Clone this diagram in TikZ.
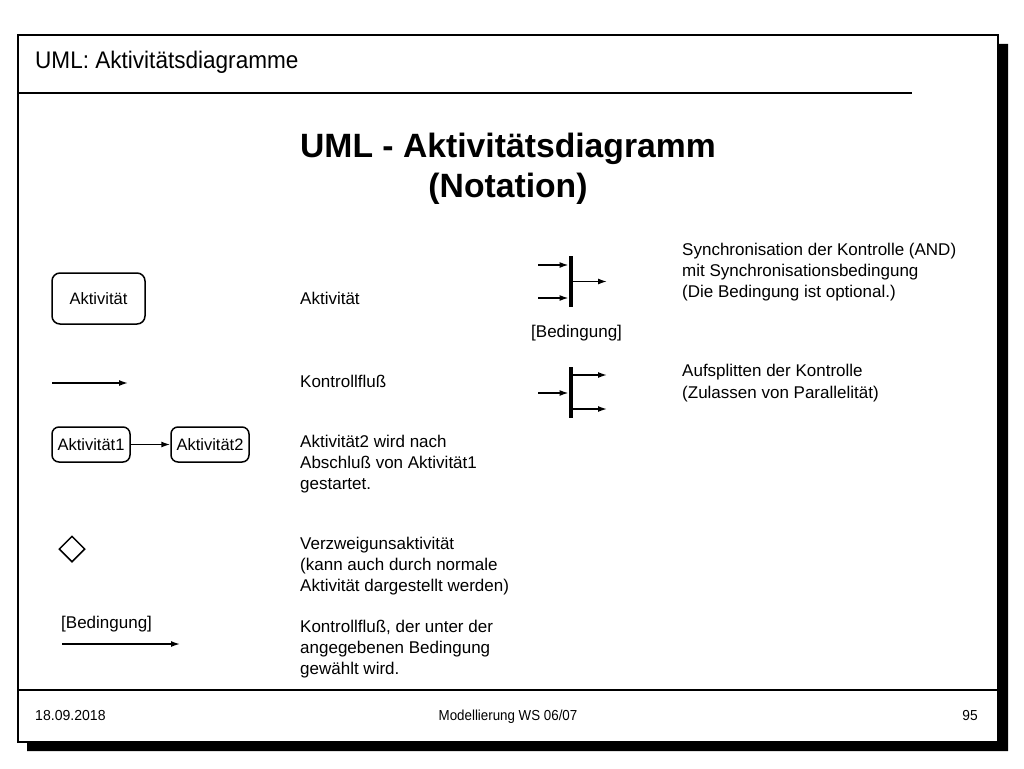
\documentclass[tikz,border=0pt]{standalone}
\usepackage{fontspec}
\setmainfont{Liberation Sans}
\usetikzlibrary{shapes.geometric,arrows.meta}
\tikzset{
  frame/.style={draw=black,line width=1.5pt},
  body/.style={inner sep=0pt,anchor=base west,font=\fontsize{17}{21}\selectfont},
  foot/.style={inner sep=0pt,anchor=base,font=\fontsize{14.5}{16}\selectfont},
  actbox/.style={draw,line width=1.5pt,rounded corners=8pt,inner sep=0pt,font=\fontsize{16.5}{20}\selectfont},
  flow/.style={line width=1.5pt,-{Latex[length=9pt,width=6pt]}},
  bar/.style={fill=black,draw=none,inner sep=0pt,minimum width=4.5pt,minimum height=51pt},
  decision/.style={diamond,draw,line width=1.5pt,inner sep=0pt,minimum width=26pt,minimum height=26pt}
}
\begin{document}
\begin{tikzpicture}[x=1pt,y=-1pt]
\useasboundingbox (0,0) rectangle (1024,768);
% shadow and frame
\fill[black] (998,44) -- (1008,44) -- (1008,751) -- (27,751) -- (27,742) -- (998,742) -- cycle;
\draw[frame,fill=white] (18,35) rectangle (998,742);
\draw[line width=1.5pt] (18,93) -- (912,93);
\draw[line width=1.5pt] (18,690) -- (998,690);
% header
\node[inner sep=0pt,anchor=base west,font=\fontsize{24}{28}\selectfont] (hdr) at (35,68) {\scalebox{0.94}[1]{UML: Aktivitätsdiagramme}};
% title
\node[inner sep=0pt,anchor=base,font=\fontsize{33.7}{40}\selectfont\bfseries] (t1) at (508,157) {UML - Aktivitätsdiagramm};
\node[inner sep=0pt,anchor=base,font=\fontsize{33.7}{40}\selectfont\bfseries] (t2) at (508,197) {(Notation)};
% left column symbols
\node[actbox,minimum width=93pt,minimum height=51pt] (akt) at (98.5,298.5) {Aktivität};
\coordinate (kf1) at (52,383);
\coordinate (kf2) at (128,383);
\draw[flow] (kf1) -- (kf2);
\node[actbox,rounded corners=7pt,minimum width=78pt,minimum height=35pt] (a1) at (91,444.5) {Aktivität1};
\node[actbox,rounded corners=7pt,minimum width=78pt,minimum height=35pt] (a2) at (210,444.5) {Aktivität2};
\draw[flow] (a1) -- (a2);
\node[decision] (dec) at (72,549) {};
\node[body] (bedl) at (61,628) {[Bedingung]};
\coordinate (bf1) at (62,644);
\coordinate (bf2) at (180,644);
\draw[flow] (bf1) -- (bf2);
% middle column texts
\node[body] (m1) at (300,304) {Aktivität};
\node[body] (m2) at (300,387) {Kontrollfluß};
\node[body] (m3a) at (300,447) {Aktivität2 wird nach};
\node[body] (m3b) at (300,468) {Abschluß von Aktivität1};
\node[body] (m3c) at (300,489) {gestartet.};
\node[body] (m4a) at (300,549) {Verzweigunsaktivität};
\node[body] (m4b) at (300,570) {(kann auch durch normale};
\node[body] (m4c) at (300,591) {Aktivität dargestellt werden)};
\node[body] (m5a) at (300,632) {Kontrollfluß, der unter der};
\node[body] (m5b) at (300,653) {angegebenen Bedingung};
\node[body] (m5c) at (300,674) {gewählt wird.};
% synchronisation bar
\node[bar] (sync) at (571,281.5) {};
\coordinate (si1) at (538,265);
\coordinate (si2) at (538,298);
\coordinate (so1) at (607,281.5);
\draw[flow] (si1) -- (si1 -| sync.west);
\draw[flow] (si2) -- (si2 -| sync.west);
\draw[flow] (so1 -| sync.east) -- (so1);
\node[body] (bedr) at (531,337) {[Bedingung]};
% split bar
\node[bar] (split) at (571,392.5) {};
\coordinate (pi1) at (538,393);
\coordinate (po1) at (607,375);
\coordinate (po2) at (607,409);
\draw[flow] (pi1) -- (pi1 -| split.west);
\draw[flow] (po1 -| split.east) -- (po1);
\draw[flow] (po2 -| split.east) -- (po2);
% right texts
\node[body] (r1a) at (682,255) {Synchronisation der Kontrolle (AND)};
\node[body] (r1b) at (682,276) {mit Synchronisationsbedingung};
\node[body] (r1c) at (682,297) {(Die Bedingung ist optional.)};
\node[body] (r2a) at (682,376) {Aufsplitten der Kontrolle};
\node[body] (r2b) at (682,398) {(Zulassen von Parallelität)};
% footer
\node[foot,anchor=base west] (date) at (35,720) {\scalebox{0.97}[1]{18.09.2018}};
\node[foot] (course) at (508,720) {\scalebox{0.92}[1]{Modellierung WS 06/07}};
\node[foot,anchor=base east] (page) at (978,720) {\scalebox{0.95}[1]{95}};
\end{tikzpicture}
\end{document}
